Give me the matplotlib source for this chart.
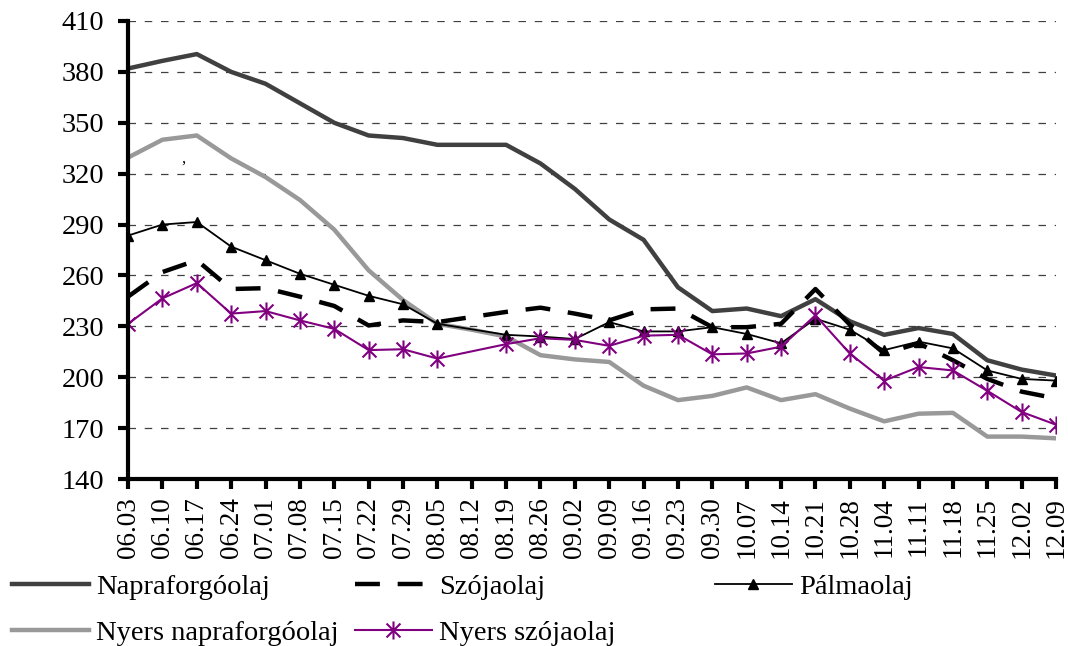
import numpy as np
import matplotlib
matplotlib.use("Agg")
import matplotlib.pyplot as plt
from matplotlib.path import Path

# heti dátumok
dates = ["06.03", "06.10", "06.17", "06.24", "07.01", "07.08", "07.15", "07.22",
         "07.29", "08.05", "08.12", "08.19", "08.26", "09.02", "09.09", "09.16",
         "09.23", "09.30", "10.07", "10.14", "10.21", "10.28", "11.04", "11.11",
         "11.18", "11.25", "12.02", "12.09"]

napraforgo = [382, 386.5, 390.5, 380, 373, 361.5, 350, 342.5, 341, 337, 337, 337,
              326, 311, 293, 281, 253, 239, 240.5, 236, 246, 233, 225, 229,
              225.5, 210, 204.5, 201]
szoja = [247.5, 262, 269, 252, 252.5, 247.5, 242, 230.5, 233.5, 232.5, 235.5, 238.5,
         241, 237.5, 233.5, 240, 240.5, 229.5, 229.5, 231.5, 252, 231, 214, 220,
         210, 199, 191.5, 187.5]
palma = [283.5, 290, 291.5, 277, 269, 261, 254.5, 248, 243, 231.5, np.nan, 225,
         224, 222.5, 232.5, 227, 227, 229.5, 225.5, 220, 234.5, 228, 216, 221,
         217, 204, 199, 198]
nyers_napraforgo = [329.5, 340, 342.5, 329, 318, 304.5, 287, 263, 245.5, 231.5, 228, 224,
                    213, 210.5, 209, 195, 186.5, 189, 194, 186.5, 190, 181.5, 174, 178.5,
                    179, 165, 165, 164]
nyers_szoja = [231.5, 246.5, 255.5, 237.5, 239, 233.5, 228.5, 216, 216.5, 211, np.nan, 219.5,
               223, 222, 218.5, 224.5, 225, 213.5, 214, 218, 236.5, 214, 198, 206,
               204, 192, 179.5, 172]

plt.rcParams['font.family'] = ['Liberation Serif', 'DejaVu Serif']

fig = plt.figure(figsize=(10.68, 6.46), dpi=100)
ax = fig.add_axes([0.1199, 0.2585, 0.8689, 0.709])

x = np.arange(len(dates))


def xy(vals):
    v = np.array(vals, dtype=float)
    m = np.isfinite(v)
    return x[m], v[m]


# csillag marker (X + függőleges vonal)
star = Path([(-1, -1), (1, 1), (-1, 1), (1, -1), (0, -1.3), (0, 1.3)],
            [Path.MOVETO, Path.LINETO, Path.MOVETO, Path.LINETO, Path.MOVETO, Path.LINETO])

l1, = ax.plot(*xy(napraforgo), color="#404040", lw=3.2, label="Napraforgóolaj", zorder=3)
l2, = ax.plot(*xy(szoja), color="black", lw=3.2, dashes=(5.6, 4), label="Szójaolaj", zorder=4)
l3, = ax.plot(*xy(palma), color="black", lw=1.3, marker="^", ms=7.5, label="Pálmaolaj", zorder=5)
l4, = ax.plot(*xy(nyers_napraforgo), color="#999999", lw=3.2, label="Nyers napraforgóolaj", zorder=3)
l5, = ax.plot(*xy(nyers_szoja), color="#800080", lw=1.5, marker=star, ms=13, mew=1.5,
              mfc="none", mec="#800080", label="Nyers szójaolaj", zorder=6)

ax.text(1.62, 329, ",", fontsize=12, ha="center", va="center")

ax.set_xlim(0, 27)
ax.set_ylim(140, 410)
ax.set_yticks(np.arange(140, 411, 30))
ax.set_xticks(x)
ax.set_xticklabels(dates, rotation=90, fontsize=19.5)
ax.tick_params(axis="y", labelsize=20.5, length=7, width=3, pad=10)
ax.tick_params(axis="x", length=7, width=3, pad=6)
ax.grid(axis="y", color="#404040", lw=0.9, dashes=(6, 7))
ax.set_axisbelow(True)
for s in ["top", "right"]:
    ax.spines[s].set_visible(False)
for s in ["left", "bottom"]:
    ax.spines[s].set_linewidth(3)
ax.spines["left"].set_zorder(7)

# jelmagyarázat – három oszlop
kw = dict(frameon=False, fontsize=20.5, loc="upper left", borderpad=0, borderaxespad=0,
          handlelength=2.7, handletextpad=0.25, labelspacing=0.72)
top = 1 - 574 / 646
fig.legend(handles=[l1, l4], bbox_to_anchor=(12 / 1068, top), **kw)
fig.legend(handles=[l2, l5], bbox_to_anchor=(355 / 1068, top), **kw)
fig.legend(handles=[l3], bbox_to_anchor=(715 / 1068, top), **kw)

fig.savefig("out.png", dpi=100)
